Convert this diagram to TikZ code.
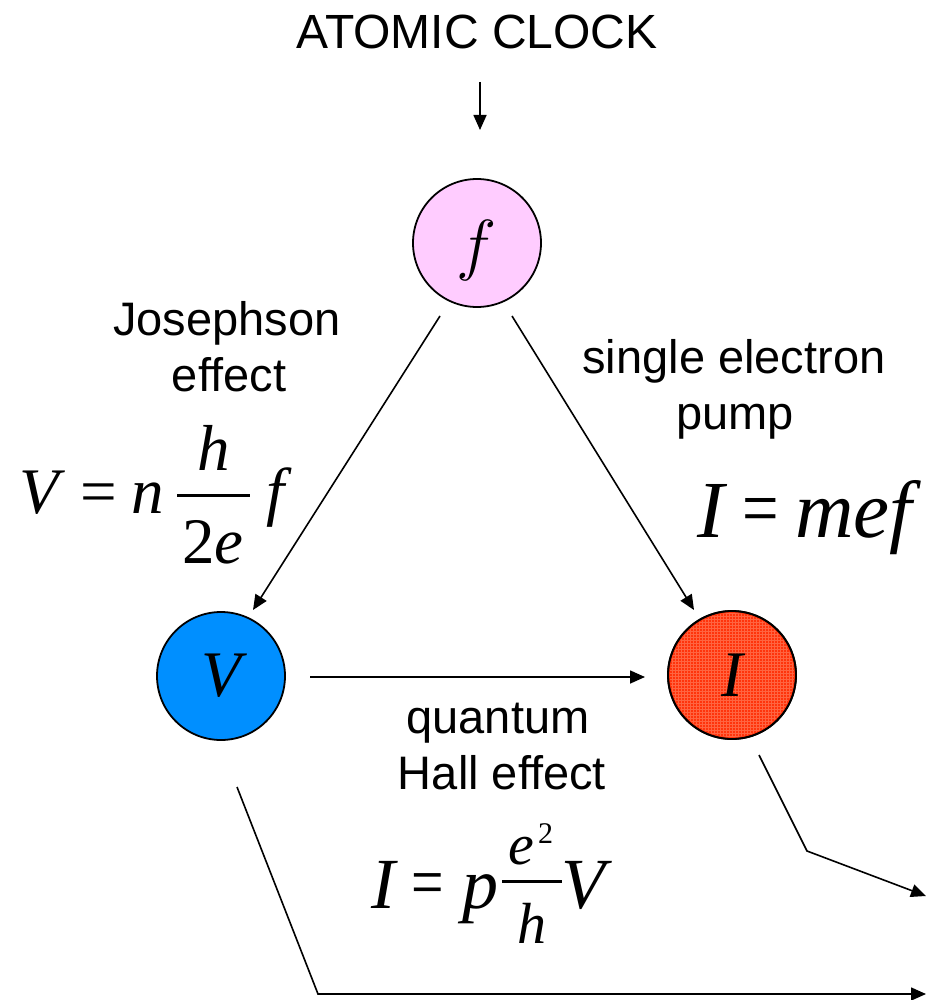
\RequirePackage{fix-cm}
\documentclass[tikz,border=0pt]{standalone}
\usepackage{graphicx}
\usepackage{fontspec}
\setmainfont{Liberation Sans}
\newfontfamily\tim{Liberation Serif}
\usetikzlibrary{arrows.meta,calc,patterns}
\definecolor{fpink}{RGB}{255,204,255}
\definecolor{vblue}{RGB}{0,143,255}
\definecolor{ired}{RGB}{255,52,12}
\definecolor{igrid}{RGB}{255,100,65}
\newcommand{\nareq}{\scalebox{0.8}[1]{=}}
\begin{document}
\begin{tikzpicture}[x=1pt,y=-1pt,
  lbl/.style={inner sep=0pt,font=\fontsize{47}{47}\selectfont},
  eqa/.style={inner sep=0pt,font=\tim\fontsize{65}{65}\selectfont},
  eqb/.style={inner sep=0pt,font=\tim\fontsize{81}{81}\selectfont},
  eqc/.style={inner sep=0pt,font=\tim\fontsize{72}{72}\selectfont},
  eqd/.style={inner sep=0pt,font=\tim\fontsize{58}{58}\selectfont},
  qty/.style={circle,draw=black,line width=1.8pt,minimum size=128pt,inner sep=0pt},
  arr/.style={line width=1.6pt,-{Triangle[length=15pt,width=13pt]}},
  fbar/.style={line width=3pt}]
\clip (0,0) rectangle (926,1000);
\fill[white] (0,0) rectangle (926,1000);

% title
\node[inner sep=0pt,font=\fontsize{48}{48}\selectfont,anchor=base] (title) at (477,49) {ATOMIC CLOCK};
\coordinate (tstart) at (480,82);

% quantity circles
\node[qty,fill=fpink] (f) at (477,243) {};
\node[inner sep=0pt,font=\fontsize{68}{68}\selectfont] (flab) at (477,250) {$f$};
\node[qty,fill=vblue] (V) at (221,676) {\tim\fontsize{65}{65}\selectfont\itshape V};
\node[qty,fill=ired] (I) at (732,675) {};
\fill[pattern=grid,pattern color=igrid] (I) circle (62pt);
\draw[line width=1.8pt] (I) circle (64pt);
\node[inner sep=0pt,font=\tim\fontsize{65}{65}\selectfont\itshape] (Ilab) at (I) {I};

% connectors
\draw[arr] (tstart) -- ($(f)+(3,-113)$);
\draw[arr] ($(f)+(-37,73)$) -- ($(V)+(32,-66)$);
\draw[arr] ($(f)+(35,73)$) -- ($(I)+(-38,-65)$);
\draw[arr] ($(V)+(89,1)$) -- ($(I)+(-87,2)$);
\coordinate (iout) at (926,896);
\coordinate (vout) at (926,994);
\draw[arr] ($(I)+(27,80)$) -- (807,851) -- (iout);
\draw[arr] ($(V)+(16,111)$) -- (318,994) -- (vout);

% labels
\node[lbl,anchor=base] (jos1) at (227,335) {Josephson};
\node[lbl,anchor=base] (jos2) at (229,391) {effect};
\node[lbl,anchor=base] (sep1) at (734,373) {single electron};
\node[lbl,anchor=base] (sep2) at (735,429) {pump};
\node[lbl,anchor=base] (qhe1) at (498,733) {quantum};
\node[lbl,anchor=base] (qhe2) at (502,789) {Hall effect};

% V = n h/2e f
\node[eqa,anchor=base west] (va) at (19,513) {\itshape V};
\node[eqa,anchor=base west] (vb) at (80,513) {=};
\node[eqa,anchor=base west] (vc) at (131,513) {\itshape n};
\draw[fbar] (177,495) -- (250,495);
\node[eqa,anchor=base] (vd) at (214,470) {\itshape h};
\node[eqa,anchor=base] (ve) at (213,563) {2\itshape e};
\node[eqa,anchor=base] (vf) at (276,513) {\itshape f};

% I = mef
\node[eqb,anchor=base west] (ia) at (697,537) {\itshape I};
\node[eqb,anchor=base west] (ib) at (742,535) {\nareq};
\node[eqb,anchor=base west] (ic) at (795,537) {\itshape mef};

% I = p e^2/h V
\node[eqc,anchor=base west] (qa) at (371,908) {\itshape I};
\node[eqc,anchor=base west] (qb) at (411,906) {\nareq};
\node[eqc,anchor=base west] (qc) at (462,908) {\itshape p};
\draw[fbar] (502,881) -- (562,881);
\node[eqd,anchor=base west] (qd) at (508,864) {\itshape e};
\node[inner sep=0pt,font=\tim\fontsize{30}{30}\selectfont,anchor=base west] (qd2) at (538,843) {2};
\node[eqd,anchor=base] (qe) at (532,943) {\itshape h};
\node[eqc,anchor=base west] (qf) at (561,908) {\itshape V};
\end{tikzpicture}
\end{document}
